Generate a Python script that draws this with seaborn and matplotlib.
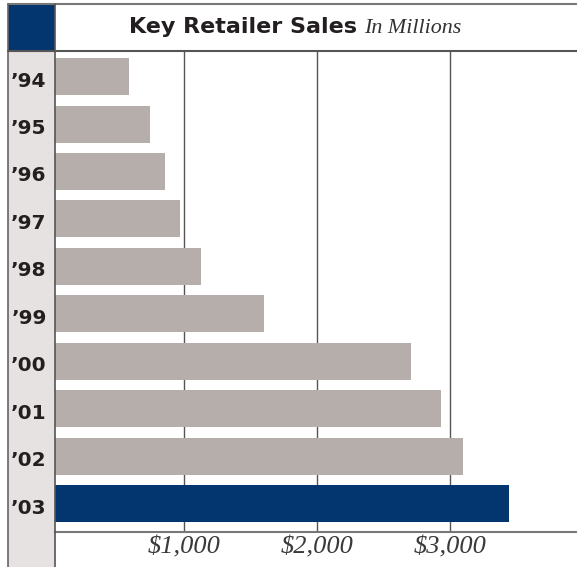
import matplotlib
matplotlib.use("Agg")
import matplotlib.pyplot as plt
import matplotlib.transforms as mtransforms
import seaborn as sns
import pandas as pd
from matplotlib.patches import Rectangle
from matplotlib.lines import Line2D

years = ["\u201994", "\u201995", "\u201996", "\u201997", "\u201998",
         "\u201999", "\u201900", "\u201901", "\u201902", "\u201903"]
sales = [590, 745, 855, 970, 1130, 1600, 2705, 2930, 3100, 3445]
tick_values = [1000, 2000, 3000]
tick_labels = ["$1,000", "$2,000", "$3,000"]

GRAY = "#b5aeab"
NAVY = "#03356f"
COLBG = "#e6e2e1"
TXT = "#231f20"

df = pd.DataFrame({"year": years, "sales": sales})
colors = [GRAY] * (len(years) - 1) + [NAVY]

sns.set_theme(style="white")
plt.rcParams["font.family"] = ["DejaVu Sans"]

W, H = 577, 567
fig = plt.figure(figsize=(W / 100, H / 100), dpi=100)
fig.patch.set_facecolor("white")

def fx(px):
    return px / W

def fy(py):
    return 1 - py / H

# left column background and corner square
fig.patches.append(Rectangle((fx(8), 0), fx(55) - fx(8), fy(4), transform=fig.transFigure,
                             facecolor=COLBG, edgecolor="none", zorder=-2))
fig.patches.append(Rectangle((fx(8), fy(51)), fx(55) - fx(8), fy(4) - fy(51), transform=fig.transFigure,
                             facecolor=NAVY, edgecolor="none", zorder=-1))

ax = fig.add_axes([fx(55), fy(532), fx(577) - fx(55), fy(51) - fy(532)])
ax.set_zorder(2)
ax.set_facecolor("white")
sns.barplot(data=df, x="sales", y="year", hue="year", palette=colors, legend=False,
            orient="h", width=0.78, saturation=1, linewidth=0, edgecolor="none",
            ax=ax, zorder=3)
ax.set_xlim(30, 3955)
ax.set_ylim(9.6, -0.54)
ax.set_xlabel("")
ax.set_ylabel("")
ax.set_xticks(tick_values)
ax.set_xticklabels(tick_labels, fontfamily="Liberation Serif", fontstyle="italic",
                   fontsize=19, color="#3a3a3a")
ax.tick_params(axis="x", length=0, pad=3)
ax.set_yticks(range(len(years)))
ax.set_yticklabels(years, fontweight="bold", fontsize=14.5, color=TXT)
ax.tick_params(axis="y", length=0, pad=6)
offset = mtransforms.ScaledTranslation(0, -2.5 / 100, fig.dpi_scale_trans)
for lab in ax.get_yticklabels():
    lab.set_transform(lab.get_transform() + offset)
ax.grid(axis="x", color="#555555", linewidth=1.0, zorder=1)
ax.set_axisbelow(True)
ax.spines["right"].set_visible(False)
ax.spines["left"].set_visible(False)
ax.spines["bottom"].set_color("#777777")
ax.spines["bottom"].set_linewidth(1.5)
ax.spines["top"].set_color("#555555")
ax.spines["top"].set_linewidth(1.5)

# frame lines
fig.lines.append(Line2D([fx(8), 1], [fy(4), fy(4)], transform=fig.transFigure, color="#777777", lw=1.5, zorder=5))
fig.lines.append(Line2D([fx(8), fx(8)], [0, fy(4)], transform=fig.transFigure, color="#666666", lw=1.2, zorder=5))
fig.lines.append(Line2D([fx(55), fx(55)], [0, fy(4)], transform=fig.transFigure, color="#555555", lw=1.2, zorder=5))
fig.lines.append(Line2D([fx(8), fx(55)], [fy(51), fy(51)], transform=fig.transFigure, color="#555555", lw=1.5, zorder=5))

# title
fig.text(fx(357), fy(33), "Key Retailer Sales", ha="right", va="baseline",
         fontsize=16, fontweight="bold", color=TXT)
fig.text(fx(364), fy(33), "In Millions", ha="left", va="baseline",
         fontsize=15.8, fontfamily="Liberation Serif", fontstyle="italic", color="#333333")

fig.savefig("out.png", dpi=100, facecolor="white")
